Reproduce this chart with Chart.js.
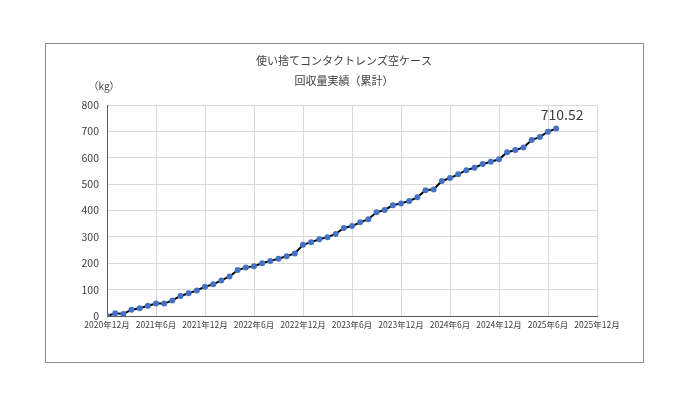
<!DOCTYPE html>
<html><head><meta charset="utf-8">
<script src="https://cdn.jsdelivr.net/npm/chart.js@4"></script>
<style>
body{margin:0;background:#fff;}
#box{position:absolute;left:45px;top:43px;width:597px;height:318px;border:1px solid #8c8c8c;}
#c{display:block;}
</style></head><body>
<div id="box"><canvas id="c" width="597" height="318"></canvas></div>
<script>
const monthLabels = [];
for (let i = 0; i <= 60; i++) {
  const m = 12 + i, y = 2020 + Math.floor((m - 1) / 12), mm = ((m - 1) % 12) + 1;
  monthLabels.push(y + '年' + mm + '月');
}
const cumulativeKg = [0,10,8,24,29,39,47,47,59,76,86,97,111,120,135,150,174,184,189,200,209,217,227,237,270,280,291,299,311,
  334,341,355,367,393,402,420,427,436,450,477,480,512,523,537,553,562,576,585,594,621,629,639,667,679,699,710.52];
const titleLines = ['使い捨てコンタクトレンズ空ケース', '回収量実績（累計）'];
const font = '"Noto Sans CJK JP", "Noto Sans", sans-serif';

const extras = {
  id: 'extras',
  afterDraw(chart) {
    const ctx = chart.ctx, meta = chart.getDatasetMeta(0);
    const last = meta.data[meta.data.length - 1];
    ctx.save();
    ctx.fillStyle = '#404040';
    ctx.textAlign = 'center';
    ctx.textBaseline = 'middle';
    ctx.font = '11px ' + font;
    ctx.fillText(titleLines[0], 298, 17);
    ctx.fillText(titleLines[1], 298, 37);
    ctx.font = '14px ' + font;
    ctx.fillText(cumulativeKg[cumulativeKg.length - 1].toFixed(2), last.x + 6, last.y - 14);
    ctx.font = '10px ' + font;
    ctx.fillText('（kg）', 58, 42);
    ctx.restore();
  }
};

new Chart(document.getElementById('c'), {
  type: 'line',
  data: {
    datasets: [{
      data: cumulativeKg.map((v, i) => ({x: i, y: v})),
      borderColor: '#000', borderWidth: 2,
      pointBackgroundColor: '#4472C4', pointBorderColor: '#4472C4',
      pointRadius: 2, tension: 0
    }]
  },
  options: {
    responsive: false, animation: false,
    layout: {padding: {left: 0, right: 46, top: 61, bottom: 0}},
    plugins: {legend: {display: false}, tooltip: {enabled: false}, title: {display: false}},
    scales: {
      x: {type: 'linear', min: 0, max: 60,
        afterFit: s => { s.height = 46; },
        ticks: {stepSize: 6, autoSkip: false, maxRotation: 0, color: '#404040', font: {family: font, size: 8.5},
          padding: 4, callback: v => monthLabels[v]},
        grid: {color: '#d9d9d9', drawTicks: false}, border: {color: '#595959'}},
      y: {min: 0, max: 800,
        afterFit: s => { s.width = 61; },
        ticks: {stepSize: 100, color: '#404040', font: {family: font, size: 10.5}, padding: 8},
        grid: {color: '#d9d9d9', drawTicks: false}, border: {color: '#595959'}}
    }
  },
  plugins: [extras]
});
</script>
</body></html>
